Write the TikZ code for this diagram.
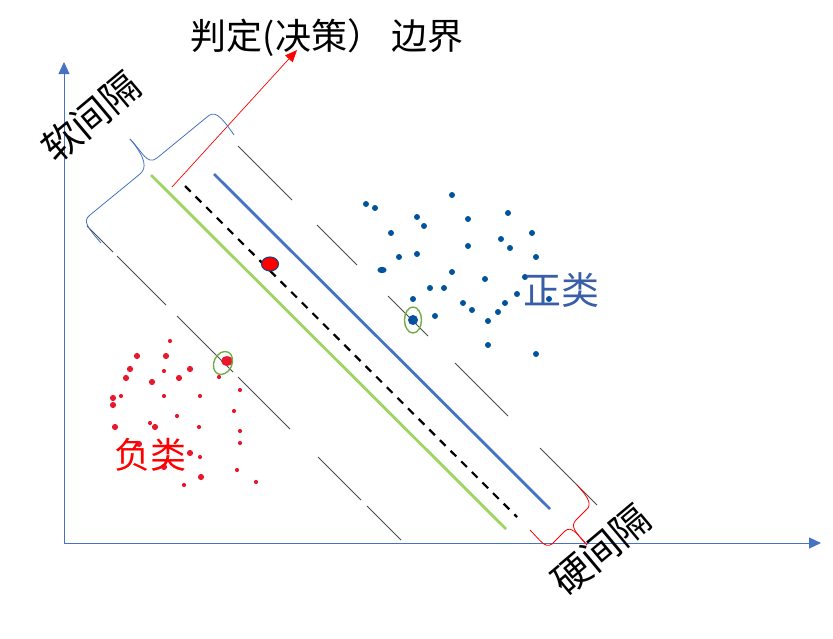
\documentclass[tikz,border=0pt]{standalone}
\usepackage{fontspec}
\setmainfont{Noto Sans CJK SC}
\usetikzlibrary{arrows.meta}
\definecolor{AxisBlue}{HTML}{4472C4}
\definecolor{DotBlue}{HTML}{00539C}
\definecolor{TextBlue}{HTML}{3A5DA8}
\definecolor{DotRed}{HTML}{E8192C}
\definecolor{LeafGreen}{HTML}{92D050}
\definecolor{RingGreen}{HTML}{70AD47}
\definecolor{PencilGrey}{HTML}{4A4A4A}

\begin{document}
\begin{tikzpicture}[x=1pt, y=-1pt,
    axis/.style={draw=AxisBlue, line width=0.9pt, -{Triangle[length=12pt, width=11pt]}},
    label/.style={inner sep=0pt, font=\fontsize{36}{40}\selectfont},
    pencil/.style={draw=PencilGrey, line width=1pt},
    bluedot/.style={fill=DotBlue},
    reddot/.style={fill=DotRed},
    ring/.style={draw=RingGreen, line width=1.4pt},
    brace/.style={line width=0.8pt, line join=round}
  ]
    \useasboundingbox (0,0) rectangle (833,638);
    % axes
    \coordinate (origin) at (64,543);
    \coordinate (ytip) at (64,62);
    \coordinate (xtip) at (821,543);
    \draw[axis] (origin) -- (ytip);
    \draw[axis] (origin) -- (xtip);

    % soft margin lines
    \foreach \a/\b in {238/292, 317/357, 388/428, 455/508, 540/597}
      \draw[pencil] (\a,\a-92) -- (\b,\b-92);
    \foreach \a/\b in {87/113, 117/166, 177/233, 238/290, 318/361, 367/401}
      \draw[pencil] (\a,\a+139) -- (\b,\b+139);

    % hard margin and decision boundary
    \coordinate (gtop) at (151,175);
    \coordinate (gend) at (506,529);
    \coordinate (btop) at (214,174);
    \coordinate (bend) at (550,509);
    \coordinate (dtop) at (185,186);
    \coordinate (dend) at (517,517);
    \draw[LeafGreen, line width=2.8pt, opacity=0.9] (gtop) -- (gend);
    \draw[AxisBlue, line width=2.8pt] (btop) -- (bend);
    \draw[black, line width=2.2pt, dash pattern=on 8pt off 7pt] (dtop) -- (dend);

    % title and its pointer
    \node[label] (title) at (327,38) {判定(决策） 边界};
    \coordinate (pstart) at (172,187);
    \coordinate (ptip) at (297,50);
    \draw[red, line width=0.7pt, -{Triangle[length=12pt, width=10pt]}] (pstart) -- (ptip);

    % point on the boundary
    \filldraw[fill=red, draw=AxisBlue!55!black, line width=1.1pt] (270,264) ellipse (8.5 and 7);

    % positive class
    \foreach \x/\y in {366/204, 375/208, 452/195, 417/217, 424/226, 468/219, 508/213,
        391/233, 501/239, 510/248, 532/233, 468/246, 399/257, 417/254, 536/257,
        452/272, 485/279, 525/277, 430/288, 444/288, 413/299, 463/303, 472/310,
        505/303, 517/294, 498/312, 549/299, 435/316, 488/321, 488/345, 536/354}
      \fill[bluedot] (\x,\y) circle (3);
    \fill[bluedot] (382,270) ellipse (4.6 and 3.2);
    \fill[bluedot] (413,320) circle (5);
    \draw[ring] (413,320) ellipse (8.5 and 13);

    % negative class
    \foreach \x/\y in {137/356, 166/356, 130/369, 190/369, 126/378, 152/382, 179/378,
        113/398, 113/405, 155/427, 115/427, 139/444, 190/453, 201/477, 164/467}
      \fill[reddot] (\x,\y) circle (3.1);
    \foreach \x/\y in {170/341, 164/371, 121/396, 164/396, 200/396, 219/377, 240/390,
        177/416, 234/411, 150/423, 199/427, 240/431, 240/443, 200/457, 237/470,
        184/485, 256/482}
      \fill[reddot] (\x,\y) circle (2.1);
    \fill[reddot] (227,361) ellipse (6 and 4.8);
    \draw[ring, rotate around={-25:(223,363)}] (223,363) ellipse (9 and 12);

    % class labels
    \node[label, text=TextBlue, font=\fontsize{38}{42}\selectfont] (pos) at (561,290) {正类};
    \node[label, text=red] (neg) at (150,455) {负类};

    % soft margin brace
    \draw[brace, AxisBlue] (101,243) .. controls (88,228) and (82,221) .. (90,215)
      -- (140,174) .. controls (147,168) and (146,158) .. (130,139);
    \draw[brace, AxisBlue] (130,139) .. controls (142,151) and (147,166) .. (157,158)
      -- (207,117) .. controls (214,111) and (219,113) .. (234,135);
    \node[label, rotate=40, font=\fontsize{38}{42}\selectfont] (soft) at (91,117) {软间隔};

    % hard margin brace
    \draw[brace, red] (530,530) .. controls (540,540) and (545,549) .. (552,544)
      -- (565,531) .. controls (571,526) and (576,532) .. (587,545);
    \draw[brace, red] (577,485) .. controls (585,494) and (592,502) .. (588,508)
      -- (576,520) .. controls (570,526) and (575,532) .. (587,545);
    \node[label, rotate=40, font=\fontsize{38}{42}\selectfont] (hard) at (601,550) {硬间隔};
  \end{tikzpicture}
\end{document}
